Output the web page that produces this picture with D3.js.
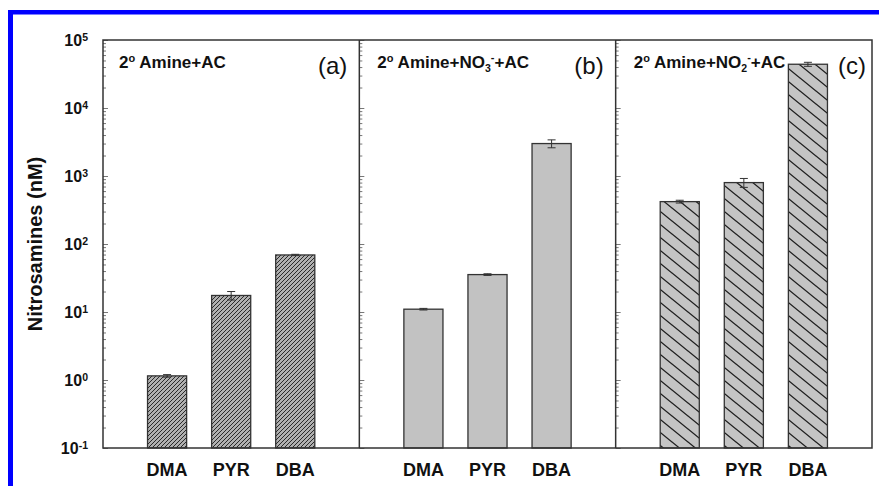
<!DOCTYPE html>
<html>
<head>
<meta charset="utf-8">
<script src="https://cdn.jsdelivr.net/npm/d3@7"></script>
<style>
  body { margin: 0; background: #fff; }
  svg { display: block; font-family: "Liberation Sans", Arial, sans-serif; }
</style>
</head>
<body>
<svg id="chart" width="879" height="486"></svg>
<script>
// ---------------- data ----------------
const panels = ["a", "b", "c"];
const categories = ["DMA", "PYR", "DBA"];
const valuesA = [1.15, 17.5, 69];
const errorsA = [0.05, 2.5, 1.5];
const valuesB = [11, 35.5, 3000];
const errorsB = [0.3, 1.0, 400];
const valuesC = [420, 800, 44000];
const errorsC = [20, 120, 3000];
const yMajorTicks = [0.1, 1, 10, 100, 1000, 10000, 100000];
const yTickExponents = ["-1", "0", "1", "2", "3", "4", "5"];
const panelLetters = ["(a)", "(b)", "(c)"];
const yLabel = "Nitrosamines (nM)";

// ---------------- layout ----------------
const svg = d3.select("#chart");
const W = 879, H = 486;
const plotL = 103, plotR = 872, plotT = 40, plotB = 448;
const frameColor = "#333";

// blue frame
svg.append("rect").attr("x", 8).attr("y", 10).attr("width", W - 8).attr("height", 4.5).attr("fill", "#0000ff");
svg.append("rect").attr("x", 8).attr("y", 10).attr("width", 5).attr("height", H - 10).attr("fill", "#0000ff");

const y = d3.scaleLog().domain([0.1, 1e5]).range([plotB, plotT]);
const px = d3.scaleBand().domain(panels).range([plotL, plotR]);

// patterns
const defs = svg.append("defs");
function hatch(id, w, h, fill, stroke, sw, dir) {
  const p = defs.append("pattern").attr("id", id).attr("patternUnits", "userSpaceOnUse")
    .attr("width", w).attr("height", h);
  p.append("rect").attr("width", w).attr("height", h).attr("fill", fill);
  let d;
  if (dir === "/") {
    d = `M0,${h}L${w},0 M${-w},${h}L0,0 M${w},${h}L${2*w},0 M0,${2*h}L${w},${h} M0,0L${w},${-h}`;
  } else {
    d = `M0,0L${w},${h} M${-w},0L0,${h} M${w},0L${2*w},${h} M0,${h}L${w},${2*h} M0,${-h}L${w},0`;
  }
  p.append("path").attr("d", d).attr("stroke", stroke).attr("stroke-width", sw).attr("fill", "none");
}
hatch("hatchA", 4, 4, "#b0b0b0", "#2a2a2a", 1, "/");
hatch("hatchC", 16, 13, "#c4c4c4", "#1e1e1e", 1.3, "\\");

const panelData = [
  { key: "a", values: valuesA, errors: errorsA, fill: "url(#hatchA)" },
  { key: "b", values: valuesB, errors: errorsB, fill: "#c2c2c2" },
  { key: "c", values: valuesC, errors: errorsC, fill: "url(#hatchC)" }
];

panelData.forEach((pd, pi) => {
  const x0 = px(pd.key), x1 = x0 + px.bandwidth();
  const xb = d3.scaleBand().domain(categories).range([x0, x1]).paddingInner(0.39).paddingOuter(0.695);
  const g = svg.append("g");
  const rows = categories.map((c, i) => ({ c, v: pd.values[i], e: pd.errors[i] }));

  // bars
  g.selectAll("rect.bar").data(rows).join("rect").attr("class", "bar")
    .attr("x", d => xb(d.c)).attr("width", xb.bandwidth())
    .attr("y", d => y(d.v)).attr("height", d => plotB - y(d.v))
    .attr("fill", pd.fill).attr("stroke", frameColor).attr("stroke-width", 1.3);

  // error bars
  const eg = g.selectAll("g.err").data(rows).join("g").attr("class", "err")
    .attr("stroke", "#333").attr("stroke-width", 1);
  eg.append("line")
    .attr("x1", d => xb(d.c) + xb.bandwidth() / 2).attr("x2", d => xb(d.c) + xb.bandwidth() / 2)
    .attr("y1", d => y(d.v + d.e)).attr("y2", d => y(Math.max(d.v - d.e, 0.1)));
  eg.append("line")
    .attr("x1", d => xb(d.c) + xb.bandwidth() / 2 - 4).attr("x2", d => xb(d.c) + xb.bandwidth() / 2 + 4)
    .attr("y1", d => y(d.v + d.e)).attr("y2", d => y(d.v + d.e));
  eg.append("line")
    .attr("x1", d => xb(d.c) + xb.bandwidth() / 2 - 4).attr("x2", d => xb(d.c) + xb.bandwidth() / 2 + 4)
    .attr("y1", d => y(d.v - d.e)).attr("y2", d => y(d.v - d.e));

  // inward ticks
  const minor = y.ticks().filter(t => !yMajorTicks.some(m => Math.abs(m - t) / m < 1e-6));
  const majAx = svg.append("g").attr("transform", `translate(${x0},0)`)
    .call(d3.axisRight(y).tickValues(yMajorTicks).tickSize(5).tickFormat(""));
  const minAx = svg.append("g").attr("transform", `translate(${x0},0)`)
    .call(d3.axisRight(y).tickValues(minor).tickSize(3).tickFormat(""));
  [majAx, minAx].forEach(a => {
    a.select(".domain").remove();
    a.selectAll("line").attr("stroke", "#555").attr("stroke-width", 0.8);
  });

  // x axis labels
  const xa = svg.append("g").attr("transform", `translate(0,${plotB})`)
    .call(d3.axisBottom(xb).tickSize(0).tickPadding(15.5));
  xa.select(".domain").remove();
  xa.selectAll("text").attr("font-size", 18).attr("font-weight", "bold").attr("fill", "#111")
    .attr("font-family", "Liberation Sans, Arial, sans-serif");

  // titles
  const t = svg.append("text").attr("x", x0 + (pi === 0 ? 16 : 18)).attr("y", 68)
    .attr("font-size", 17).attr("font-weight", "bold").attr("fill", "#111");
  t.append("tspan").text("2");
  t.append("tspan").attr("font-size", 11).attr("dy", -6).text("o");
  t.append("tspan").attr("dy", 6).text(" Amine+");
  if (pi === 1 || pi === 2) {
    t.append("tspan").text("NO");
    t.append("tspan").attr("font-size", 10.5).attr("dy", 4).text(pi === 1 ? "3" : "2");
    t.append("tspan").attr("font-size", 11).attr("dy", -11).text("-");
    t.append("tspan").attr("dy", 7).text("+AC");
  } else {
    t.append("tspan").text("AC");
  }

  svg.append("text").attr("x", x1 - (pi === 2 ? 6 : 12)).attr("y", 74)
    .attr("text-anchor", "end").attr("font-size", 24).attr("fill", "#111")
    .text(panelLetters[pi]);
});

// y axis labels (left)
const ya = svg.append("g").attr("transform", `translate(${plotL},0)`)
  .call(d3.axisLeft(y).tickValues(yMajorTicks).tickSize(0).tickPadding(15).tickFormat(() => ""));
ya.select(".domain").remove();
ya.selectAll(".tick text").each(function (d, i) {
  const s = d3.select(this).attr("font-size", 16).attr("font-weight", "bold").attr("fill", "#111")
    .attr("font-family", "Liberation Sans, Arial, sans-serif");
  s.append("tspan").text("10");
  s.append("tspan").attr("font-size", 10.5).attr("dy", "-0.45em").text(yTickExponents[i]);
});

// frame and dividers
svg.append("rect").attr("x", plotL).attr("y", plotT).attr("width", plotR - plotL).attr("height", plotB - plotT)
  .attr("fill", "none").attr("stroke", frameColor).attr("stroke-width", 1.5);
panels.slice(1).forEach(p => {
  svg.append("line").attr("x1", px(p)).attr("x2", px(p)).attr("y1", plotT).attr("y2", plotB)
    .attr("stroke", frameColor).attr("stroke-width", 1.5);
});

// y label
svg.append("text").attr("transform", `translate(42,${(plotT + plotB) / 2}) rotate(-90)`)
  .attr("text-anchor", "middle").attr("font-size", 20).attr("font-weight", "bold").attr("fill", "#111")
  .text(yLabel);
</script>
</body>
</html>
